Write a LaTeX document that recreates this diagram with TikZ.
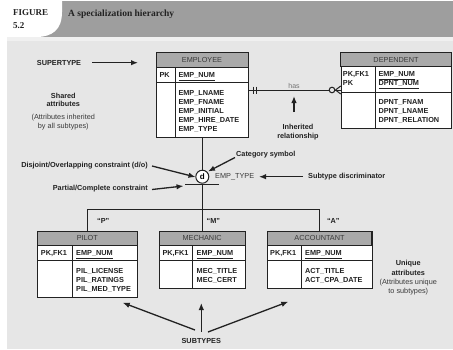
\documentclass[tikz,border=0pt]{standalone}
\usepackage{fontspec}
\setmainfont{Liberation Sans}
\newfontfamily\seriff{Liberation Serif}
\usetikzlibrary{arrows.meta,calc}
\definecolor{bgc}{HTML}{E6E6E6}
\definecolor{band}{HTML}{9E9E9E}
\definecolor{hdrc}{HTML}{A9A9A9}
\definecolor{ink}{HTML}{222222}
\definecolor{soft}{HTML}{3A3A3A}
\begin{document}
\begin{tikzpicture}[x=1pt,y=-1pt,
  lbl/.style={font=\fontsize{7.3}{9}\selectfont\bfseries, text=ink, inner sep=0},
  nrm/.style={font=\fontsize{7.3}{9}\selectfont, text=soft, inner sep=0},
  att/.style={font=\fontsize{7.3}{9}\selectfont\bfseries, text=ink, inner sep=0, anchor=base west},
  hdtxt/.style={font=\fontsize{7.3}{9}\selectfont, text=soft, inner sep=0, anchor=base},
  entbox/.style={draw=ink, line width=0.9pt, fill=white, inner sep=0, anchor=north west},
  conn/.style={draw=ink, line width=1pt},
  arr/.style={draw=ink, line width=1.3pt, -{Latex[length=7pt,width=5.5pt]}}
]
\path[use as bounding box] (0,0) rectangle (453,349);
% header
\fill[white] (0,0) rectangle (453,349);
\fill[band] (40,1) rectangle (453,37);
\fill[white] (0,0) -- (62,0) -- (62,12) .. controls (62,30) and (52,37) .. (36,37) -- (0,37) -- cycle;
\fill[white!94!black] (7,37) rectangle (453,41);
\fill[bgc] (7,41) rectangle (453,349);
\node[font=\seriff\bfseries\fontsize{9}{10}\selectfont, text=ink, anchor=base west, inner sep=0] (fig) at (13,15) {FIGURE};
\node[font=\seriff\bfseries\fontsize{9}{10}\selectfont, text=ink, anchor=base west, inner sep=0] (fnum) at (13,28) {5.2};
\node[font=\seriff\bfseries\fontsize{9.5}{10}\selectfont, text=ink, anchor=base west, inner sep=0] (title) at (68,16) {A specialization hierarchy};

% ---------- EMPLOYEE ----------
\node[entbox, minimum width=92pt, minimum height=84.3pt] (emp) at (156,52.7) {};
\filldraw[fill=hdrc, draw=ink, line width=0.9pt] (156,52.7) rectangle (248,67.7);
\draw[ink, line width=0.9pt] (156,82.7) -- (248,82.7) (175.3,67.7) -- (175.3,137);
\node[hdtxt] (empT) at (202,62.8) {EMPLOYEE};
\node[att] (empPK) at (159.3,77.6) {PK};
\node[att] (empK) at (178.3,77.6) {\underline{EMP\_NUM}};
\foreach \t [count=\i] in {EMP\_LNAME,EMP\_FNAME,EMP\_INITIAL,EMP\_HIRE\_DATE,EMP\_TYPE}
  \node[att] (ea\i) at (178.3,{95.9+9*(\i-1)}) {\t};

% ---------- DEPENDENT ----------
\node[entbox, minimum width=110.3pt, minimum height=75.4pt] (dep) at (340.7,52.3) {};
\filldraw[fill=hdrc, draw=ink, line width=0.9pt] (340.7,52.3) rectangle (451,66.7);
\draw[ink, line width=0.9pt] (340.7,92.7) -- (451,92.7) (375.3,66.7) -- (375.3,127.7);
\node[hdtxt] (depT) at (396,62.1) {DEPENDENT};
\node[att] (depPK1) at (342.7,76.6) {PK,FK1};
\node[att] (depPK2) at (342.7,85.6) {PK};
\node[att] (depK1) at (378.3,76.6) {\underline{EMP\_NUM}};
\node[att] (depK2) at (378.3,85.6) {\underline{DPNT\_NUM}};
\foreach \t [count=\i] in {DPNT\_FNAM,DPNT\_LNAME,DPNT\_RELATION}
  \node[att] (da\i) at (378.3,{104.3+9*(\i-1)}) {\t};

% ---------- PILOT ----------
\node[entbox, minimum width=100pt, minimum height=66.3pt] (pil) at (37.3,231) {};
\filldraw[fill=hdrc, draw=ink, line width=0.9pt] (37.3,231) rectangle (137.3,245.7);
\draw[ink, line width=0.9pt] (37.3,260.7) -- (137.3,260.7) (72.3,245.7) -- (72.3,297.3);
\node[hdtxt] (pilT) at (87.3,240.9) {PILOT};
\node[att] (pilPK) at (40.7,255.9) {PK,FK1};
\node[att] (pilK) at (76,255.9) {\underline{EMP\_NUM}};
\foreach \t [count=\i] in {PIL\_LICENSE,PIL\_RATINGS,PIL\_MED\_TYPE}
  \node[att] (pa\i) at (76,{273.6+9*(\i-1)}) {\t};

% ---------- MECHANIC ----------
\node[entbox, minimum width=85.7pt, minimum height=57.3pt] (mec) at (159.3,231) {};
\filldraw[fill=hdrc, draw=ink, line width=0.9pt] (159.3,231) rectangle (245,245.7);
\draw[ink, line width=0.9pt] (159.3,260.7) -- (245,260.7) (192.7,245.7) -- (192.7,288.3);
\node[hdtxt] (mecT) at (202.1,240.9) {MECHANIC};
\node[att] (mecPK) at (162.3,255.9) {PK,FK1};
\node[att] (mecK) at (196.5,255.9) {\underline{EMP\_NUM}};
\foreach \t [count=\i] in {MEC\_TITLE,MEC\_CERT}
  \node[att] (ma\i) at (196.5,{273.6+9*(\i-1)}) {\t};

% ---------- ACCOUNTANT ----------
\node[entbox, minimum width=104.4pt, minimum height=57.3pt] (acc) at (267.3,231) {};
\filldraw[fill=hdrc, draw=ink, line width=0.9pt] (267.3,231) rectangle (371.7,245.7);
\draw[ink, line width=0.9pt] (267.3,260.7) -- (371.7,260.7) (301.7,245.7) -- (301.7,288.3);
\node[hdtxt] (accT) at (319.5,240.9) {ACCOUNTANT};
\node[att] (accPK) at (270,255.9) {PK,FK1};
\node[att] (accK) at (305,255.9) {\underline{EMP\_NUM}};
\foreach \t [count=\i] in {ACT\_TITLE,ACT\_CPA\_DATE}
  \node[att] (aa\i) at (305,{273.6+9*(\i-1)}) {\t};

% ---------- relationship ----------
\coordinate (hy) at (0,90);
\draw[conn] (emp.east |- hy) -- (329.2,90);
\draw[conn] (334.8,90) -- (dep.west |- hy);
\draw[conn] (253,86.5) -- (253,93.5) (256.5,86.5) -- (256.5,93.5);
\draw[conn] (335.5,90) -- (340.7,86) (335.5,90) -- (340.7,94);
\draw[ink, line width=1pt, fill=bgc] (332,90) circle (2.8);
\node[font=\fontsize{7}{8}\selectfont, text=black!55, anchor=base, inner sep=0] (has) at (294,88.3) {has};

% ---------- specialization ----------
\node[draw=ink, line width=1pt, fill=white, circle, minimum size=13pt, inner sep=0,
      font=\fontsize{8}{9}\selectfont\bfseries] (dc) at (202.3,176.7) {d};
\draw[conn] (emp.south -| dc) -- (dc.north);
\coordinate (jn) at (202.3,209.3);
\draw[conn] (dc.south) -- (jn);
\draw[conn] (185,184.3) -- (219.3,184.3);
\coordinate (jl) at (pil.north |- jn);
\coordinate (jr) at (acc.north |- jn);
\draw[conn] (pil.north) -- (jl) -- (jr) -- (acc.north);
\draw[conn] (jn) -- (mec.north -| jn);
\node[nrm, anchor=west] (etype) at (215,176.7) {EMP\_TYPE};

% ---------- labels & arrows ----------
\node[lbl] (sup) at (59,62.7) {SUPERTYPE};
\coordinate (supA) at (92,62.7);
\coordinate (supB) at (138,62.7);
\draw[arr] (supA) -- (supB);

\node[lbl] (sh1) at (63.3,95.7) {Shared};
\node[lbl] (sh2) at (63.3,104.3) {attributes};
\node[nrm] (sh3) at (63.3,117.3) {(Attributes inherited};
\node[nrm] (sh4) at (63.3,126.5) {by all subtypes)};

\coordinate (inhA) at (294,112);
\coordinate (inhB) at (294,96);
\draw[arr] (inhA) -- (inhB);
\node[lbl] (inh1) at (298,127.3) {Inherited};
\node[lbl] (inh2) at (298,136.7) {relationship};

\node[lbl, anchor=west] (cat) at (236,154.3) {Category symbol};
\coordinate (catA) at (235,157.5);
\coordinate (catB) at (208,171.5);
\draw[arr] (catA) -- (catB);

\node[lbl, anchor=west] (sd) at (308,176.7) {Subtype discriminator};
\coordinate (sdA) at (303,176.7);
\coordinate (sdB) at (259,176.7);
\draw[arr] (sdA) -- (sdB);

\node[lbl, anchor=east] (dis) at (148,165.7) {Disjoint/Overlapping constraint (d/o)};
\coordinate (disA) at (152,166);
\coordinate (disB) at (195.5,177);
\draw[arr] (disA) -- (disB);

\node[lbl, anchor=east] (pc) at (148,189) {Partial/Complete constraint};
\coordinate (pcA) at (152,189.5);
\coordinate (pcB) at (183.5,186);
\draw[arr] (pcA) -- (pcB);

\node[lbl] (qP) at (103.3,221) {“P”};
\node[lbl] (qM) at (213.3,221) {“M”};
\node[lbl] (qA) at (333.3,221) {“A”};

\node[lbl] (un1) at (408.3,264) {Unique};
\node[lbl] (un2) at (408.3,273) {attributes};
\node[nrm] (un3) at (408.3,282.7) {(Attributes unique};
\node[nrm] (un4) at (408.3,291.7) {to subtypes)};

\node[lbl] (subt) at (201.3,340.7) {SUBTYPES};
\coordinate (s1) at (195,330);
\coordinate (s1t) at (122.7,302.7);
\coordinate (s2) at (201.3,332);
\coordinate (s2t) at (201.3,303);
\coordinate (s3) at (208,332);
\coordinate (s3t) at (288.3,301.7);
\draw[arr] (s1) -- (s1t);
\draw[arr] (s2) -- (s2t);
\draw[arr] (s3) -- (s3t);
\end{tikzpicture}
\end{document}
